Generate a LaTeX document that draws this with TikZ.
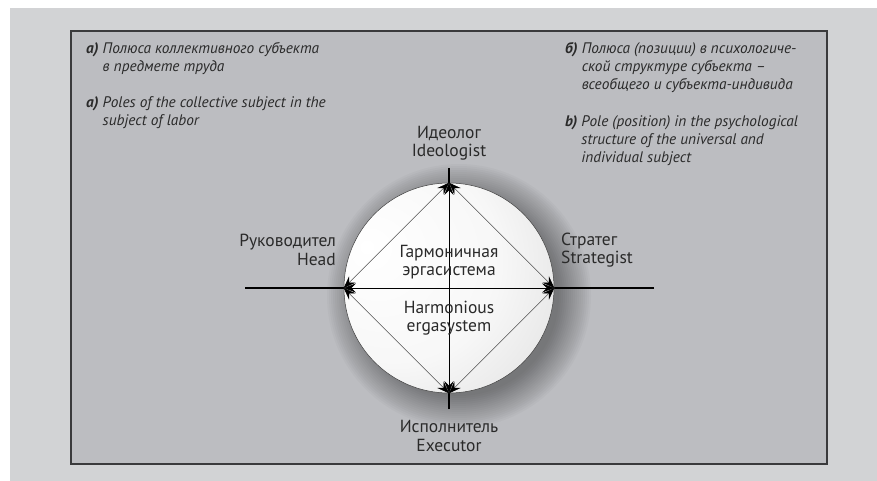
\documentclass[tikz,border=0pt]{standalone}
\usepackage{fontspec}
\setmainfont{PT Sans}
\usetikzlibrary{arrows.meta}
\definecolor{outerbg}{HTML}{D2D3D5}
\definecolor{innerbg}{HTML}{BCBDC1}
\definecolor{boxline}{HTML}{3A3A3C}
\definecolor{txt}{HTML}{2A2A2A}
\definecolor{diag}{HTML}{505050}
\pgfdeclareradialshading{globe}{\pgfpoint{-20bp}{10bp}}{color(0bp)=(white); color(25bp)=(white!97!black); color(50bp)=(white!85!black); color(72bp)=(white!62!black)}
\begin{document}
\begin{tikzpicture}[x=1pt,y=-1pt,
  lab/.style={text=txt, inner sep=0pt, font=\fontsize{17.5}{18.5}\selectfont},
  itxt/.style={text=txt, inner sep=0pt, align=left, font=\fontsize{15.3}{18}\selectfont\itshape},
  tick/.style={line width=1.6pt, black},
  inner/.style={line width=0.7pt, black, {Stealth[length=12pt,width=9pt,inset=4.5pt]}-{Stealth[length=12pt,width=9pt,inset=4.5pt]}},
  diagline/.style={line width=0.5pt, diag, {Stealth[length=12pt,width=9pt,inset=4.5pt,color=black]}-{Stealth[length=12pt,width=9pt,inset=4.5pt,color=black]}},
  globe/.style={circle, minimum size=210pt, inner sep=0pt, draw=black!75, line width=0.5pt, shading=globe},
  shadowring/.style={fill=black, opacity=0.022}
]
\useasboundingbox (0,0) rectangle (877,481);
\fill[white] (0,0) rectangle (877,481);
\fill[outerbg] (10,8) rectangle (877,481);
\draw[boxline, line width=1.6pt, fill=innerbg] (71,31) rectangle (827,464);

% tick end points
\coordinate (tn) at (449,168);
\coordinate (ts) at (449,409);
\coordinate (tw) at (245,288);
\coordinate (te) at (654,288);
\coordinate (cn) at (449,183);
\coordinate (cs) at (449,393);
\coordinate (cw) at (344,288);
\coordinate (ce) at (554,288);
\draw[tick] (tn) -- (cn);
\draw[tick] (ts) -- (cs);
\draw[tick] (tw) -- (cw);
\draw[tick] (te) -- (ce);

% soft shadow
\coordinate (sc) at (459,296);
\foreach \r in {100,102,...,132} {\fill[shadowring] (sc) circle (\r);}

\node[globe] (c) at (449,288) {};

\draw[inner] (c.north) -- (c.south);
\draw[inner] (c.west) -- (c.east);
\draw[diagline] (c.north) -- (c.east);
\draw[diagline] (c.east) -- (c.south);
\draw[diagline] (c.south) -- (c.west);
\draw[diagline] (c.west) -- (c.north);

\node[lab, align=center] (ideo) at (449,143) {Идеолог\\Ideologist};
\node[lab, align=center] (exec) at (449,436) {Исполнитель\\Executor};
\node[lab, align=right, anchor=east] (head) at (336,250) {Руководител\\Head};
\node[lab, align=left, anchor=west] (strat) at (561,250) {Стратег\\Strategist};
\node[lab, align=center] (harm1) at (449,262) {Гармоничная\\эргасистема};
\node[lab, align=center] (harm2) at (449,318) {Harmonious\\ergasystem};

\node[itxt, anchor=north west] (ta) at (86,42) {\textbf{а)} Полюса коллективного субъекта\\\phantom{\textbf{а)} }в предмете труда};
\node[itxt, anchor=north west] (tae) at (86,96) {\textbf{a)} Poles of the collective subject in the\\\phantom{\textbf{a)} }subject of labor};
\node[itxt, anchor=north west] (tb) at (565,42) {\textbf{б)} Полюса (позиции) в психологиче-\\\phantom{\textbf{б)} }ской структуре субъекта –\\\phantom{\textbf{б)} }всеобщего и субъекта-индивида};
\node[itxt, anchor=north west] (tbe) at (565,115) {\textbf{b)} Pole (position) in the psychological\\\phantom{\textbf{b)} }structure of the universal and\\\phantom{\textbf{b)} }individual subject};
\end{tikzpicture}
\end{document}
